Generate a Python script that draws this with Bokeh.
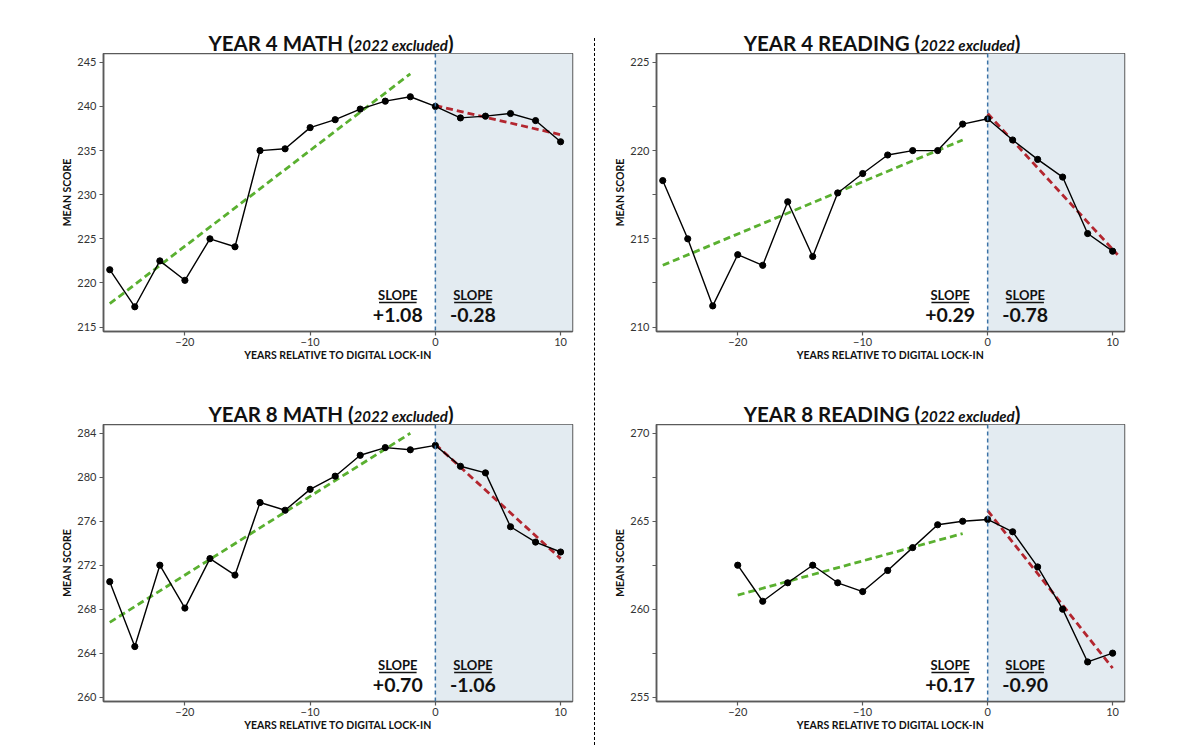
from bokeh.plotting import figure
from bokeh.models import Range1d, FixedTicker, Label, BoxAnnotation, Span, Div
from bokeh.layouts import row, column
from bokeh.embed import file_html
from bokeh.resources import INLINE

FONT = "Lato"

# ---------------- data ----------------
years_full = [-26, -24, -22, -20, -18, -16, -14, -12, -10, -8, -6, -4, -2, 0, 2, 4, 6, 8, 10]
years_y8r = [-20, -18, -16, -14, -12, -10, -8, -6, -4, -2, 0, 2, 4, 6, 8, 10]

y4_math = [221.5, 217.3, 222.5, 220.3, 225.0, 224.1, 235.0, 235.2, 237.6, 238.5, 239.7,
           240.6, 241.1, 240.0, 238.7, 238.9, 239.2, 238.4, 236.0]
y4_read = [218.3, 215.0, 211.2, 214.1, 213.5, 217.1, 214.0, 217.6, 218.7, 219.75, 220.0,
           220.0, 221.5, 221.8, 220.6, 219.5, 218.5, 215.3, 214.3]
y8_math = [270.5, 264.6, 272.0, 268.1, 272.6, 271.1, 277.7, 277.0, 278.9, 280.1, 282.0,
           282.7, 282.5, 282.9, 281.0, 280.4, 275.5, 274.1, 273.2]
y8_read = [262.5, 260.45, 261.5, 262.5, 261.5, 261.0, 262.2, 263.5, 264.8, 265.0,
           265.1, 264.4, 262.4, 260.0, 257.0, 257.5]

# trend lines (end points)
y4_math_pre_x, y4_math_pre_y = [-26, -2], [217.65, 243.7]
y4_math_post_x, y4_math_post_y = [0, 10], [240.1, 236.8]
y4_read_pre_x, y4_read_pre_y = [-26, -2], [213.5, 220.6]
y4_read_post_x, y4_read_post_y = [0, 10.4], [222.1, 214.1]
y8_math_pre_x, y8_math_pre_y = [-26, -2], [266.8, 284.0]
y8_math_post_x, y8_math_post_y = [0, 10], [283.0, 272.6]
y8_read_pre_x, y8_read_pre_y = [-20, -2], [260.8, 264.3]
y8_read_post_x, y8_read_post_y = [0, 10], [265.6, 256.65]

slope_labels = {
    "y4m": ("+1.08", "-0.28"),
    "y4r": ("+0.29", "-0.78"),
    "y8m": ("+0.70", "-1.06"),
    "y8r": ("+0.17", "-0.90"),
}

titles = {
    "y4m": "YEAR 4 MATH",
    "y4r": "YEAR 4 READING",
    "y8m": "YEAR 8 MATH",
    "y8r": "YEAR 8 READING",
}
title_note = "2022 excluded"

x_ticks = [-20, -10, 0, 10]
y4m_ticks = [215, 220, 225, 230, 235, 240, 245]
y4r_ticks = [210, 215, 220, 225]
y4r_minor = [212.5, 217.5, 222.5]
y8m_ticks = [260, 264, 268, 272, 276, 280, 284]
y8r_ticks = [255, 260, 265, 270]
y8r_minor = [257.5, 262.5, 267.5]

XR = (-26.5, 10.95)
FRAME_GREY = "#5a5a5a"
BORDER_BOTTOM = 47


def title_div(key, width, height, pad_left):
    html = (
        f'<div style="width:{width}px;height:{height}px;display:flex;align-items:flex-end;'
        f'justify-content:center;padding-left:{pad_left}px;box-sizing:border-box;'
        f'font-family:{FONT};color:#111111;">'
        f'<span style="font-size:20.5px;font-weight:bold;line-height:1;white-space:nowrap;">'
        f'{titles[key]} (<i style="font-size:15px;">{title_note}</i>)</span></div>'
    )
    return Div(text=html, width=width, height=height, margin=(0, 0, 0, 0))


def panel(key, years, scores, pre_x, pre_y, post_x, post_y, ylim,
          yticks, yminor, min_left, width, height):
    p = figure(width=width, height=height, x_range=Range1d(*XR), y_range=Range1d(*ylim),
               output_backend="svg", toolbar_location=None,
               min_border_left=min_left, min_border_right=18,
               min_border_top=0, min_border_bottom=BORDER_BOTTOM)
    p.grid.visible = False
    p.outline_line_color = FRAME_GREY
    p.outline_line_width = 1.5
    p.background_fill_color = "white"
    p.border_fill_color = "white"

    p.add_layout(BoxAnnotation(left=0, fill_color="#e3ebf1", fill_alpha=1.0,
                               line_color=None, level="underlay"))
    p.add_layout(Span(location=0, dimension="height", line_color="#3b72a6",
                      line_dash="4 3", line_width=1.5))

    p.line(pre_x, pre_y, line_color="#5ab030", line_width=2.8, line_dash="7 4")
    p.line(post_x, post_y, line_color="#b3262f", line_width=2.8, line_dash="7 4")
    p.line(years, scores, line_color="black", line_width=1.4)
    p.scatter(years, scores, size=6.2, color="black")

    p.xaxis.ticker = FixedTicker(ticks=x_ticks, minor_ticks=[])
    p.yaxis.ticker = FixedTicker(ticks=yticks, minor_ticks=yminor)
    p.xaxis.axis_label = "YEARS RELATIVE TO DIGITAL LOCK-IN"
    p.yaxis.axis_label = "MEAN SCORE"
    for ax in (p.xaxis, p.yaxis):
        ax.axis_label_text_font = FONT
        ax.axis_label_text_font_style = "bold"
        ax.axis_label_text_font_size = "10.5px"
        ax.axis_label_text_color = "#111111"
        ax.major_label_text_font = FONT
        ax.major_label_text_font_size = "11px"
        ax.major_label_text_color = "#333333"
        ax.axis_line_color = FRAME_GREY
        ax.axis_line_width = 1.5
        ax.major_tick_line_color = FRAME_GREY
        ax.major_tick_line_width = 1.2
        ax.minor_tick_line_color = FRAME_GREY
        ax.minor_tick_line_width = 1.2
        ax.major_tick_out = 4
        ax.major_tick_in = 0
        ax.minor_tick_out = 4
        ax.minor_tick_in = 0
        ax.major_label_standoff = 3
    p.xaxis.major_label_standoff = 2
    p.xaxis.axis_label_standoff = 0
    p.yaxis.axis_label_standoff = 1

    ys, ye = ylim
    frame_h = height - BORDER_BOTTOM
    y_ul = ys + (29.0 / frame_h) * (ye - ys)
    pre_txt, post_txt = slope_labels[key]
    for xs, txt in ((-3.0, pre_txt), (3.0, post_txt)):
        p.add_layout(Label(x=xs, y=ys, y_offset=37, text="SLOPE", text_align="center",
                           text_baseline="middle", text_font=FONT, text_font_style="bold",
                           text_font_size="13px", text_color="#111111"))
        p.add_layout(Label(x=xs, y=ys, y_offset=17, text=txt, text_align="center",
                           text_baseline="middle", text_font=FONT, text_font_style="bold",
                           text_font_size="19.5px", text_color="#111111"))
        p.segment(x0=[xs - 1.5], x1=[xs + 1.5], y0=[y_ul], y1=[y_ul],
                  line_color="#111111", line_width=1.3)
    return p


LW, RW = 590, 544
p1 = panel("y4m", years_full, y4_math, y4_math_pre_x, y4_math_pre_y,
           y4_math_post_x, y4_math_post_y, (214.5, 246.0), y4m_ticks, [], 103, LW, 325)
p2 = panel("y4r", years_full, y4_read, y4_read_pre_x, y4_read_pre_y,
           y4_read_post_x, y4_read_post_y, (209.75, 225.5), y4r_ticks, y4r_minor, 58, RW, 325)
p3 = panel("y8m", years_full, y8_math, y8_math_pre_x, y8_math_pre_y,
           y8_math_post_x, y8_math_post_y, (259.6, 284.8), y8m_ticks, [], 103, LW, 324)
p4 = panel("y8r", years_y8r, y8_read, y8_read_pre_x, y8_read_pre_y,
           y8_read_post_x, y8_read_post_y, (254.75, 270.5), y8r_ticks, y8r_minor, 58, RW, 324)

t1 = title_div("y4m", LW, 53, 72)
t2 = title_div("y4r", RW, 53, 24)
t3 = title_div("y8m", LW, 46, 72)
t4 = title_div("y8r", RW, 46, 24)

sep = Div(text='<div style="margin-left:3.5px;margin-top:38px;height:707px;'
               'border-left:1.5px dashed #000;"></div>', width=8, height=748,
          margin=(0, 0, 0, 0))

layout = row(column(t1, p1, t3, p3), sep, column(t2, p2, t4, p4))

open("out.html", "w").write(file_html(layout, INLINE))
